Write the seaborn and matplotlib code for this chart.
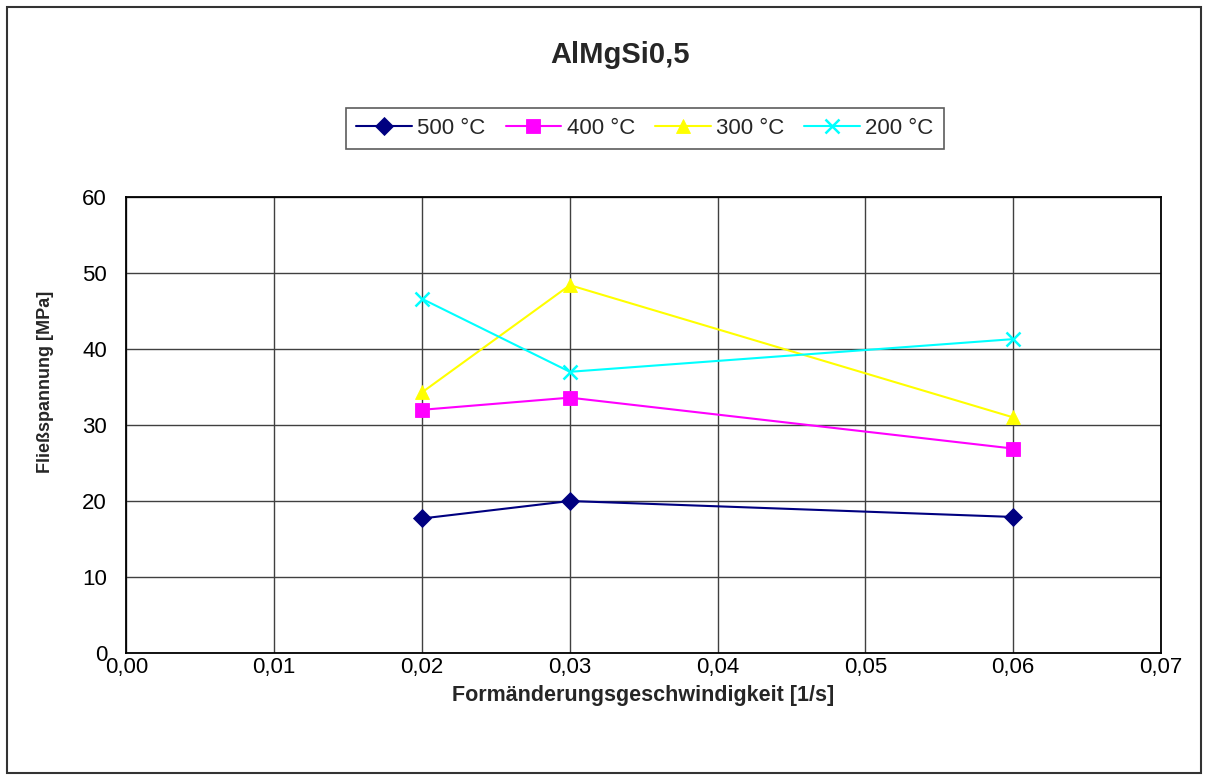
import matplotlib
matplotlib.use("Agg")
import matplotlib.pyplot as plt
from matplotlib import font_manager
import seaborn as sns
import pandas as pd
from matplotlib.ticker import FuncFormatter, MultipleLocator
from matplotlib.patches import Rectangle

strain_rate = [0.02, 0.03, 0.06]
series_names = ["500 °C", "400 °C", "300 °C", "200 °C"]
s500 = [17.7, 20.0, 17.9]
s400 = [32.0, 33.6, 26.9]
s300 = [34.3, 48.4, 31.0]
s200 = [46.6, 37.0, 41.3]

colors = ["#000080", "#FF00FF", "#FFFF00", "#00FFFF"]
markers = ["D", "s", "^", "x"]
msizes = [9.5, 10, 10, 9.5]

rows = []
for name, vals in zip(series_names, [s500, s400, s300, s200]):
    for x, v in zip(strain_rate, vals):
        rows.append({"rate": x, "stress": v, "T": name})
df = pd.DataFrame(rows)

sns.set_style("white")
plt.rcParams["font.family"] = ["Liberation Sans", "DejaVu Sans"]

available = {f.name for f in font_manager.fontManager.ttflist}
narrow = "Liberation Sans Narrow" in available
ylab_family = ["Liberation Sans Narrow", "DejaVu Sans"] if narrow else ["Liberation Sans", "DejaVu Sans"]
ylab_size = 15.5 if narrow else 13

fig = plt.figure(figsize=(12.08, 7.80), dpi=100)
ax = fig.add_axes([126.5 / 1208, 1 - 653 / 780, (1161 - 126.5) / 1208, (653 - 197) / 780])

for name, c, m, ms in zip(series_names, colors, markers, msizes):
    sub = df[df["T"] == name]
    sns.lineplot(data=sub, x="rate", y="stress", ax=ax, color=c, marker=m,
                 markersize=ms, markeredgecolor=c, markeredgewidth=1.8 if m == "x" else 0.6,
                 linewidth=1.5, label=name, legend=False, errorbar=None)

ax.set_xlim(0, 0.07)
ax.set_ylim(0, 60)
ax.xaxis.set_major_locator(MultipleLocator(0.01))
ax.yaxis.set_major_locator(MultipleLocator(10))
ax.xaxis.set_major_formatter(FuncFormatter(lambda v, p: f"{v:.2f}".replace(".", ",")))
ax.yaxis.set_major_formatter(FuncFormatter(lambda v, p: f"{v:.0f}"))
ax.grid(True, color="#404040", linewidth=1.0)
ax.set_axisbelow(True)
for sp in ax.spines.values():
    sp.set_color("black")
    sp.set_linewidth(1.3)
ax.tick_params(axis="both", labelsize=16, length=0, colors="black")
ax.tick_params(axis="x", pad=3)
ax.tick_params(axis="y", pad=14)
ax.set_xlabel("")
ax.set_ylabel("")

fig.text(643 / 1208, 1 - 695 / 780, "Formänderungsgeschwindigkeit [1/s]", ha="center", va="center",
         fontsize=15.5, fontweight="bold")
fig.text(46 / 1208, 1 - 382 / 780, "Fließspannung [MPa]", ha="center", va="center",
         rotation=90, fontsize=ylab_size, fontweight="bold", family=ylab_family)
fig.text(620 / 1208, 1 - 55 / 780, "AlMgSi0,5", ha="center", va="center",
         fontsize=21, fontweight="bold")

handles, labels = ax.get_legend_handles_labels()
leg = fig.legend(handles, labels, loc="center", bbox_to_anchor=(645 / 1208, 1 - 128.5 / 780),
                 ncol=4, frameon=True, fancybox=False, fontsize=16, handlelength=2.5,
                 columnspacing=0.9, handletextpad=0.25, borderpad=0.45, borderaxespad=0)
leg.get_frame().set_edgecolor("#333333")
leg.get_frame().set_linewidth(1.2)

fig.patches.append(Rectangle((7 / 1208, 7 / 780), 1194 / 1208, 766 / 780, transform=fig.transFigure,
                             fill=False, edgecolor="#333333", linewidth=1.5))

fig.savefig("out.png", dpi=100)
